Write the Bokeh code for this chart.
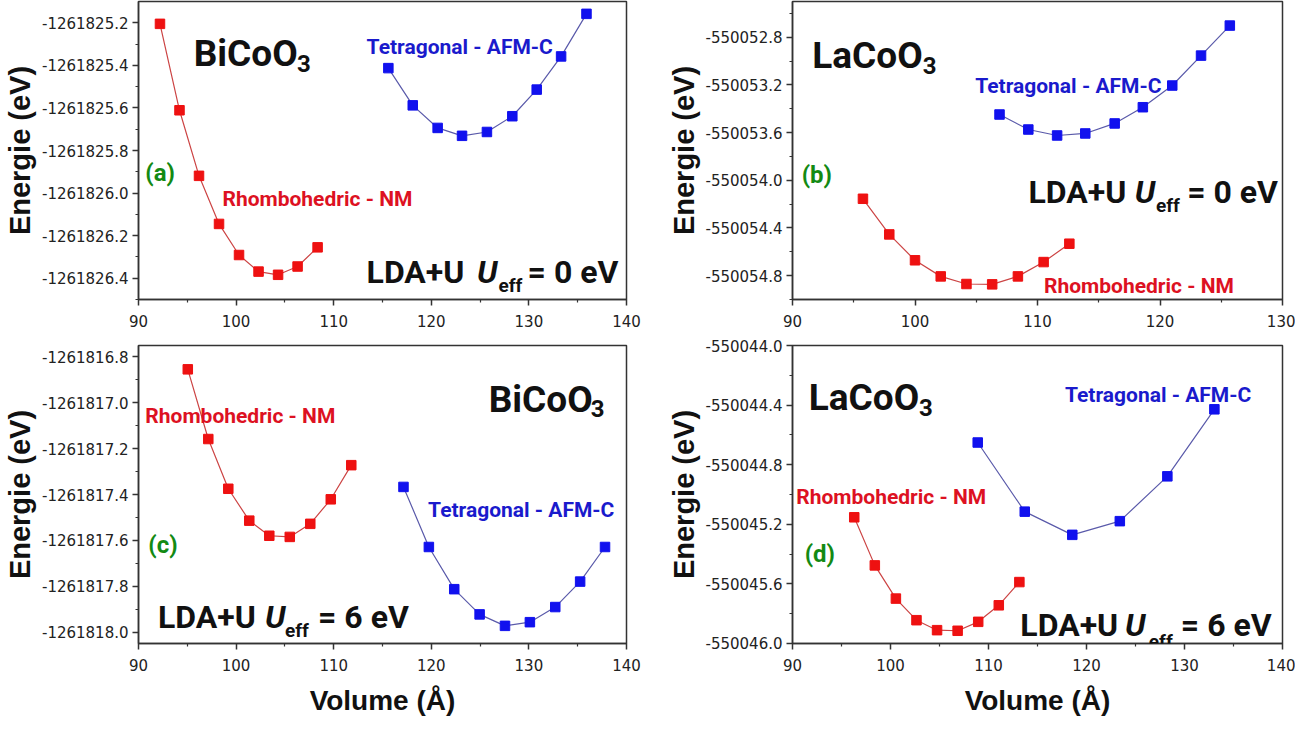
from bokeh.plotting import figure
from bokeh.models import Range1d, FixedTicker, PrintfTickFormatter, Label
from bokeh.layouts import column, row
from bokeh.embed import file_html
from bokeh.resources import INLINE

# ---------------- data ----------------
a_rh_x = [92.2, 94.2, 96.2, 98.25, 100.3, 102.3, 104.3, 106.3, 108.35]
a_rh_y = [-1261825.205, -1261825.611, -1261825.919, -1261826.145, -1261826.291,
          -1261826.369, -1261826.384, -1261826.345, -1261826.255]
a_te_x = [115.6, 118.1, 120.65, 123.15, 125.7, 128.3, 130.8, 133.3, 135.9]
a_te_y = [-1261825.413, -1261825.588, -1261825.694, -1261825.731, -1261825.713,
          -1261825.639, -1261825.514, -1261825.358, -1261825.158]

b_rh_x = [95.75, 97.9, 100.0, 102.1, 104.2, 106.3, 108.4, 110.5, 112.6]
b_rh_y = [-550054.155, -550054.454, -550054.671, -550054.806, -550054.870,
          -550054.873, -550054.806, -550054.686, -550054.532]
b_te_x = [106.9, 109.25, 111.6, 113.9, 116.3, 118.6, 121.0, 123.35, 125.7]
b_te_y = [-550053.448, -550053.574, -550053.624, -550053.607, -550053.523,
          -550053.387, -550053.205, -550052.954, -550052.702]

c_rh_x = [95.05, 97.15, 99.2, 101.35, 103.4, 105.5, 107.6, 109.7, 111.8]
c_rh_y = [-1261816.854, -1261817.158, -1261817.375, -1261817.514, -1261817.580,
          -1261817.585, -1261817.528, -1261817.421, -1261817.272]
c_te_x = [117.15, 119.75, 122.35, 124.95, 127.55, 130.1, 132.7, 135.25, 137.8]
c_te_y = [-1261817.367, -1261817.629, -1261817.813, -1261817.923, -1261817.973,
          -1261817.957, -1261817.891, -1261817.780, -1261817.629]

d_rh_x = [96.3, 98.4, 100.55, 102.65, 104.75, 106.85, 108.95, 111.05, 113.15]
d_rh_y = [-550045.153, -550045.476, -550045.699, -550045.844, -550045.911,
          -550045.915, -550045.855, -550045.744, -550045.588]
d_te_x = [108.9, 113.7, 118.55, 123.4, 128.25, 133.05]
d_te_y = [-550044.651, -550045.115, -550045.271, -550045.179, -550044.878, -550044.428]

xticks_140 = [90, 100, 110, 120, 130, 140]
xticks_130 = [90, 100, 110, 120, 130]
a_yticks = [-1261826.4, -1261826.2, -1261826.0, -1261825.8, -1261825.6, -1261825.4, -1261825.2]
b_yticks = [-550054.8, -550054.4, -550054.0, -550053.6, -550053.2, -550052.8]
c_yticks = [-1261818.0, -1261817.8, -1261817.6, -1261817.4, -1261817.2, -1261817.0, -1261816.8]
d_yticks = [-550046.0, -550045.6, -550045.2, -550044.8, -550044.4, -550044.0]

RED_M, RED_L, RED_T = "#ee1111", "#cc4444", "#dd1122"
BLUE_M, BLUE_L, BLUE_T = "#1111ee", "#5a5aaa", "#1a1acc"
GREEN = "#138a13"
AX = "#333333"
TICK_FONT = "DejaVu Sans"
BIG_FONT = "Roboto"


def minor_of(ticks, step):
    h = step / 2.0
    return [t - h for t in ticks] + [ticks[-1] + h]


def panel(width, height, xr, yr, xt, yt, ystep, borders, xtitle):
    p = figure(width=width, height=height, output_backend="svg", toolbar_location=None,
               x_range=Range1d(*xr), y_range=Range1d(*yr),
               min_border_left=borders[0], min_border_right=borders[1],
               min_border_top=borders[2], min_border_bottom=borders[3])
    p.grid.visible = False
    p.outline_line_color = AX
    p.outline_line_width = 1.5
    p.background_fill_color = "white"
    p.border_fill_color = "white"
    p.xaxis.ticker = FixedTicker(ticks=xt, minor_ticks=minor_of(xt, 10))
    p.yaxis.ticker = FixedTicker(ticks=yt, minor_ticks=minor_of(yt, ystep))
    p.yaxis.formatter = PrintfTickFormatter(format="%.1f")
    for ax in (p.xaxis[0], p.yaxis[0]):
        ax.axis_line_color = AX
        ax.axis_line_width = 1.5
        ax.major_tick_line_color = AX
        ax.minor_tick_line_color = AX
        ax.major_tick_line_width = 1.5
        ax.minor_tick_line_width = 1.2
        ax.major_tick_in = 0
        ax.major_tick_out = 6
        ax.minor_tick_in = 0
        ax.minor_tick_out = 3
        ax.major_label_text_font = TICK_FONT
        ax.major_label_text_font_size = "15px"
        ax.major_label_text_color = "#222222"
        ax.axis_label_text_font = "Liberation Sans"
        ax.axis_label_text_font_style = "bold"
        ax.axis_label_text_color = "#111111"
    p.yaxis.axis_label = "Energie (eV)"
    p.yaxis.axis_label_text_font_size = "29px"
    p.yaxis.major_label_standoff = 4
    p.yaxis.axis_label_standoff = 3
    p.xaxis.major_label_standoff = 9
    if xtitle:
        p.xaxis.axis_label = "Volume (Å)"
        p.xaxis.axis_label_text_font_size = "28px"
        p.xaxis.axis_label_standoff = 11
    return p


def series(p, xs, ys, lc, mc):
    p.line(xs, ys, line_color=lc, line_width=1.2)
    p.scatter(xs, ys, marker="square", size=9.5, fill_color=mc, line_color=mc)


def txt(p, x, y, s, size, color="#111111", style="bold", font=BIG_FONT, dx=0):
    p.add_layout(Label(x=x, y=y, text=s, text_font=font, text_font_size=size,
                       text_font_style=style, text_color=color, x_offset=dx,
                       text_align="left", text_baseline="alphabetic"))


def formula(p, x, y, x3, y3, name):
    txt(p, x, y, name, "37px")
    txt(p, x3, y3, "3", "24px", dx=-7)


def lda(p, pos, ueff, dr=0):
    (x1, y1), xu, (xe, ye), xr = pos
    txt(p, x1, y1, "LDA+U", "32px")
    txt(p, xu, y1, "U", "32px", style="bold italic", dx=-5)
    txt(p, xe, ye, "eff", "19px", dx=-4)
    txt(p, xr, y1, "= %s eV" % ueff, "32px", dx=dr)


W1, W2 = 660, 635
H1, H2 = 337, 383

pa = panel(W1, H1, (90, 140), (-1261826.5, -1261825.1), xticks_140, a_yticks, 0.2,
           (135, 34, 1, 38), False)
series(pa, a_rh_x, a_rh_y, RED_L, RED_M)
series(pa, a_te_x, a_te_y, BLUE_L, BLUE_M)
formula(pa, 95.65, -1261825.345, 106.95, -1261825.392, "BiCoO")
txt(pa, 113.37, -1261825.314, "Tetragonal - AFM-C", "21px", BLUE_T)
txt(pa, 98.6, -1261826.028, "Rhombohedric - NM", "21px", RED_T)
txt(pa, 90.7, -1261825.908, "(a)", "24px", GREEN)
lda(pa, ((113.37, -1261826.373), 125.2, (127.3, -1261826.434), 129.66), "0", 2)

pb = panel(W2, H1, (90, 130), (-550055.0, -550052.5), xticks_130, b_yticks, 0.4,
           (132, 13, 1, 38), False)
series(pb, b_rh_x, b_rh_y, RED_L, RED_M)
series(pb, b_te_x, b_te_y, BLUE_L, BLUE_M)
formula(pb, 91.61, -550052.954, 101.2, -550053.037, "LaCoO")
txt(pb, 104.91, -550053.205, "Tetragonal - AFM-C", "21px", BLUE_T)
txt(pb, 110.53, -550054.887, "Rhombohedric - NM", "21px", RED_T)
txt(pb, 90.75, -550053.954, "(b)", "24px", GREEN)
lda(pb, ((109.26, -550054.099), 118.35, (120.0, -550054.21), 122.63), "0", -5)

pc = panel(W1, H2, (90, 140), (-1261818.05, -1261816.75), xticks_140, c_yticks, 0.2,
           (135, 34, 8, 77), True)
series(pc, c_rh_x, c_rh_y, RED_L, RED_M)
series(pc, c_te_x, c_te_y, BLUE_L, BLUE_M)
formula(pc, 125.88, -1261816.987, 137.05, -1261817.027, "BiCoO")
txt(pc, 119.67, -1261817.469, "Tetragonal - AFM-C", "21px", BLUE_T)
txt(pc, 90.7, -1261817.056, "Rhombohedric - NM", "21px", RED_T)
txt(pc, 91.0, -1261817.621, "(c)", "24px", GREEN)
lda(pc, ((92.0, -1261817.935), 103.47, (105.42, -1261817.994), 108.5), "6", -1)

pd_ = panel(W2, H2, (90, 140), (-550046.0005, -550043.9995), xticks_140, d_yticks, 0.4,
            (132, 13, 8, 77), True)
series(pd_, d_rh_x, d_rh_y, RED_L, RED_M)
series(pd_, d_te_x, d_te_y, BLUE_L, BLUE_M)
formula(pd_, 91.66, -550044.35, 103.61, -550044.417, "LaCoO")
txt(pd_, 117.8, -550044.334, "Tetragonal - AFM-C", "21px", BLUE_T)
txt(pd_, 90.38, -550045.019, "Rhombohedric - NM", "21px", RED_T)
txt(pd_, 91.24, -550045.398, "(d)", "24px", GREEN)
lda(pd_, ((113.25, -550045.877), 124.43, (126.77, -550045.989), 129.63), "6", 0)

layout = column(row(pa, pb), row(pc, pd_))
open("out.html", "w").write(file_html(layout, INLINE))
